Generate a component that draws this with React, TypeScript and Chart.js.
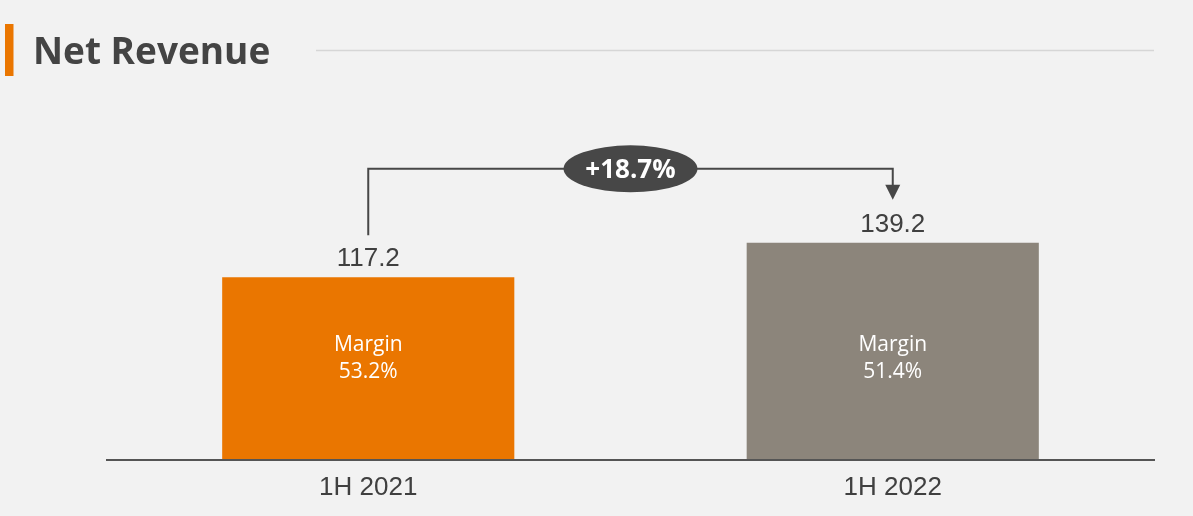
import React, { useEffect, useRef } from "react";
import { Chart, registerables } from "chart.js";

Chart.register(...registerables);

const categories = ["1H 2021", "1H 2022"];
const revenue = [117.2, 139.2];
const marginLabel = "Margin";
const margins = ["53.2%", "51.4%"];
const growthLabel = "+18.7%";
const titleText = "Net Revenue";

const barColors = ["#EA7600", "#8C857B"];
const BG = "#F2F2F2";
const DARK = "#474747";
const TEXT = "#404040";

const overlayPlugin = {
  id: "overlay",
  afterDraw(chart: any) {
    const ctx = chart.ctx;
    const area = chart.chartArea;
    const yScale = chart.scales.y;
    const meta = chart.getDatasetMeta(0);
    const bars = meta.data;
    ctx.save();

    // Title block
    ctx.fillStyle = "#EA7600";
    ctx.fillRect(5, 24, 8.5, 52);
    ctx.fillStyle = "#444444";
    ctx.font = "bold 37px 'Open Sans'";
    ctx.textAlign = "left";
    ctx.textBaseline = "alphabetic";
    ctx.fillText(titleText, 33, 63.5);
    ctx.strokeStyle = "#D6D6D6";
    ctx.lineWidth = 1.5;
    ctx.beginPath();
    ctx.moveTo(316, 50.5);
    ctx.lineTo(1154, 50.5);
    ctx.stroke();

    // Axis line
    const base = yScale.getPixelForValue(0);
    ctx.fillStyle = "#555555";
    ctx.fillRect(area.left, base - 1, area.right - area.left, 2);

    // Value labels, category labels, margin labels
    const xScale = chart.scales.x;
    bars.forEach((bar: any, i: number) => {
      ctx.textAlign = "center";
      ctx.textBaseline = "alphabetic";
      ctx.fillStyle = TEXT;
      ctx.font = "26px 'Liberation Sans'";
      ctx.fillText(String(revenue[i]), bar.x, bar.y - 11.3);
      const cx = xScale.getPixelForValue(i);
      ctx.fillText(categories[i], cx, base + 35);

      ctx.fillStyle = "#FFFFFF";
      ctx.font = "21px 'Open Sans'";
      const mid = yScale.getPixelForValue(66);
      ctx.fillText(marginLabel, bar.x, mid - 6.5);
      ctx.fillText(margins[i], bar.x, mid + 20.5);
    });

    // Growth bracket
    if (bars.length >= 2) {
      const b0 = bars[0];
      const b1 = bars[1];
      const topY = Math.min(b0.y, b1.y) - 74;
      ctx.strokeStyle = DARK;
      ctx.fillStyle = DARK;
      ctx.lineWidth = 2;
      const tipY = b1.y - 43;
      ctx.beginPath();
      ctx.moveTo(b0.x, b0.y - 42);
      ctx.lineTo(b0.x, topY);
      ctx.lineTo(b1.x, topY);
      ctx.lineTo(b1.x, tipY - 14);
      ctx.stroke();
      ctx.beginPath();
      ctx.moveTo(b1.x - 7.5, tipY - 15);
      ctx.lineTo(b1.x + 7.5, tipY - 15);
      ctx.lineTo(b1.x, tipY);
      ctx.closePath();
      ctx.fill();

      const mx = (b0.x + b1.x) / 2;
      ctx.beginPath();
      ctx.ellipse(mx, topY, 67, 23.5, 0, 0, Math.PI * 2);
      ctx.fill();
      ctx.fillStyle = "#FFFFFF";
      ctx.font = "bold 26px 'Open Sans'";
      ctx.textAlign = "center";
      ctx.textBaseline = "alphabetic";
      ctx.fillText(growthLabel, mx, topY + 9.3);
    }
    ctx.restore();
  },
};

export default function App() {
  const canvasRef = useRef<HTMLCanvasElement | null>(null);

  useEffect(() => {
    const canvas = canvasRef.current;
    if (!canvas) return;
    const chart = new Chart(canvas, {
      type: "bar",
      data: {
        labels: categories,
        datasets: [
          {
            data: revenue,
            backgroundColor: barColors,
            borderWidth: 0,
            categoryPercentage: 1,
            barPercentage: 0.557,
          },
        ],
      },
      options: {
        responsive: false,
        animation: false,
        devicePixelRatio: 1,
        layout: {
          padding: { left: 106, right: 38, top: 85.6, bottom: 56 },
        },
        plugins: {
          legend: { display: false },
          tooltip: { enabled: false },
          title: { display: false },
        },
        scales: {
          x: { display: false },
          y: { display: false, min: 0, max: 240 },
        },
      },
      plugins: [overlayPlugin],
    });
    return () => chart.destroy();
  }, []);

  return (
    <div
      style={{
        position: "absolute",
        left: 0,
        top: 0,
        width: 1193,
        height: 516,
        background: BG,
        overflow: "hidden",
      }}
    >
      <canvas ref={canvasRef} width={1193} height={516} style={{ display: "block" }} />
    </div>
  );
}
